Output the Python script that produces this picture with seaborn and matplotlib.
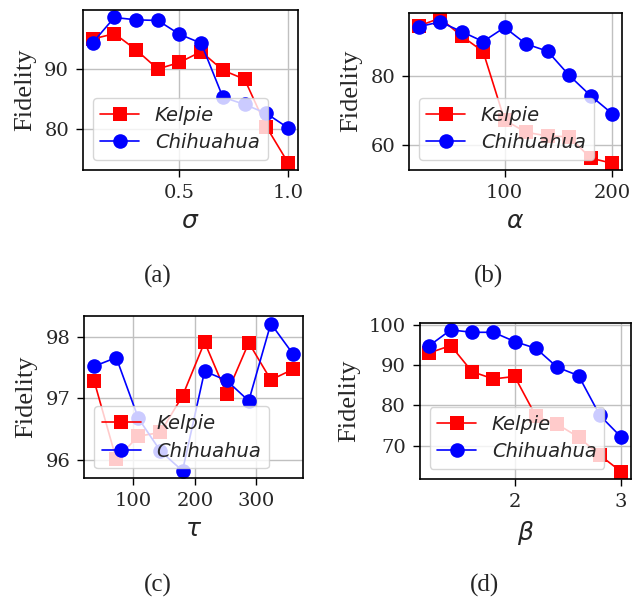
import matplotlib
matplotlib.use("Agg")
import matplotlib.pyplot as plt
import seaborn as sns
import pandas as pd

sigma = [0.1, 0.2, 0.3, 0.4, 0.5, 0.6, 0.7, 0.8, 0.9, 1.0]
sigma_kelpie = [95.0, 95.9, 93.2, 90.0, 91.1, 92.9, 89.8, 88.3, 80.4, 74.4]
sigma_chihuahua = [94.4, 98.6, 98.2, 98.1, 95.8, 94.3, 85.3, 84.1, 82.6, 80.2]

alpha = [20, 40, 60, 80, 100, 120, 140, 160, 180, 200]
alpha_kelpie = [94.5, 96.8, 91.6, 87.1, 67.2, 63.7, 62.6, 62.4, 56.2, 54.7]
alpha_chihuahua = [94.3, 95.7, 92.9, 90.0, 94.1, 89.3, 87.2, 80.2, 74.3, 69.1]

tau = [36, 72, 108, 144, 180, 216, 252, 288, 324, 360]
tau_kelpie = [97.28, 96.02, 96.39, 96.45, 97.04, 97.91, 97.07, 97.90, 97.30, 97.47]
tau_chihuahua = [97.52, 97.66, 96.68, 96.15, 95.83, 97.44, 97.29, 96.96, 98.21, 97.72]

beta = [1.2, 1.4, 1.6, 1.8, 2.0, 2.2, 2.4, 2.6, 2.8, 3.0]
beta_kelpie = [93.1, 94.9, 88.4, 86.6, 87.2, 77.3, 75.3, 72.1, 67.6, 63.5]
beta_chihuahua = [94.9, 98.8, 98.2, 98.2, 95.9, 94.2, 89.5, 87.4, 77.5, 72.1]

series_names = ["Kelpie", "Chihuahua"]
xlabels = [r"$\sigma$", r"$\alpha$", r"$\tau$", r"$\beta$"]
captions = ["(a)", "(b)", "(c)", "(d)"]

sns.set_style("whitegrid", {"axes.edgecolor": "black", "grid.color": "#c0c0c0",
                            "xtick.bottom": True, "ytick.left": True})
plt.rcParams["font.family"] = ["DejaVu Serif"]
plt.rcParams["mathtext.fontset"] = "dejavusans"

fig = plt.figure(figsize=(6.43, 6.0), dpi=100)
positions = [
    [0.129, 0.717, 0.334, 0.266],
    [0.636, 0.717, 0.331, 0.262],
    [0.131, 0.203, 0.340, 0.270],
    [0.653, 0.202, 0.328, 0.260],
]
data = [
    (sigma, sigma_kelpie, sigma_chihuahua),
    (alpha, alpha_kelpie, alpha_chihuahua),
    (tau, tau_kelpie, tau_chihuahua),
    (beta, beta_kelpie, beta_chihuahua),
]
ylims = [None, (52.8, 98.4), None, None]
xticks = [[0.5, 1.0], [100, 200], [100, 200, 300], [2, 3]]
yticks = [[80, 90], [60, 80], [96, 97, 98], [70, 80, 90, 100]]
caption_pos = [(0.246, 0.54), (0.759, 0.54), (0.246, 0.025), (0.754, 0.025)]

for i, (pos, (xs, k, c)) in enumerate(zip(positions, data)):
    ax = fig.add_axes(pos)
    df = pd.DataFrame({"x": xs, "Kelpie": k, "Chihuahua": c})
    sns.lineplot(data=df, x="x", y="Kelpie", ax=ax, color="red", marker="s",
                 markersize=9.5, markeredgewidth=0, linewidth=1.2, label=series_names[0])
    sns.lineplot(data=df, x="x", y="Chihuahua", ax=ax, color="blue", marker="o",
                 markersize=10.5, markeredgewidth=0, linewidth=1.2, label=series_names[1])
    if ylims[i] is not None:
        ax.set_ylim(*ylims[i])
    ax.set_xticks(xticks[i])
    ax.set_yticks(yticks[i])
    ax.tick_params(labelsize=14, length=5, width=1, color="black", pad=5)
    for sp in ax.spines.values():
        sp.set_color("black")
        sp.set_linewidth(1.2)
    ax.set_xlabel(xlabels[i], fontsize=18, labelpad=6)
    ax.set_ylabel("Fidelity", fontsize=19, family="Liberation Serif", labelpad=6)
    ax.grid(True, color="#c0c0c0", linewidth=1)
    ax.legend(loc="lower left", prop={"family": "DejaVu Sans", "style": "italic", "size": 14},
              framealpha=0.8, fancybox=True, handlelength=2, borderpad=0.4,
              labelspacing=0.45)
    fig.text(caption_pos[i][0], caption_pos[i][1], captions[i], ha="center", va="center",
             fontsize=18, family="Liberation Serif")

fig.savefig("out.png", dpi=100)
